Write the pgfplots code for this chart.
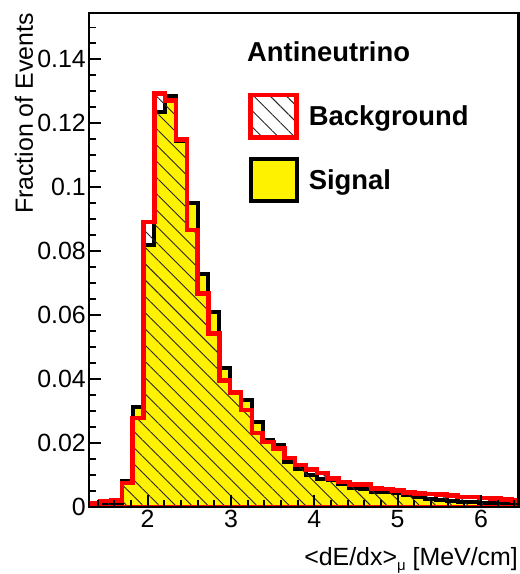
\documentclass[border=0pt]{standalone}
\usepackage{fontspec}
\setmainfont{Liberation Sans}
\usepackage{pgfplots}
\usepackage{pgfplotstable}
\pgfplotsset{compat=1.18}
\usetikzlibrary{patterns.meta,calc}

% bin left edges (bin width 0.13), signal and background fractions
\pgfplotstableread{
x     sig     bkg
1.30  0.0003  0.0011
1.43  0.0005  0.0018
1.56  0.0009  0.0020
1.69  0.0082  0.0075
1.82  0.0314  0.0278
1.95  0.0818  0.0892
2.08  0.1236  0.1293
2.21  0.1286  0.1271
2.34  0.1145  0.1150
2.47  0.0950  0.0866
2.60  0.0728  0.0668
2.73  0.0610  0.0543
2.86  0.0434  0.0395
2.99  0.0360  0.0358
3.12  0.0334  0.0303
3.25  0.0266  0.0232
3.38  0.0211  0.0203
3.51  0.0193  0.0183
3.64  0.0140  0.0153
3.77  0.0120  0.0131
3.90  0.0099  0.0117
4.03  0.0089  0.0106
4.16  0.0083  0.0089
4.29  0.0073  0.0078
4.42  0.0058  0.0071
4.55  0.0057  0.0071
4.68  0.0047  0.0058
4.81  0.0046  0.0056
4.94  0.0043  0.0052
5.07  0.0037  0.0045
5.20  0.0030  0.0042
5.33  0.0025  0.0040
5.46  0.0022  0.0039
5.59  0.0018  0.0036
5.72  0.0016  0.0031
5.85  0.0015  0.0031
5.98  0.0013  0.0028
6.11  0.0012  0.0026
6.24  0.0010  0.0024
6.37  0.0010  0.0020
6.50  0.0010  0.0020
}\histdata

\begin{document}
\begin{tikzpicture}
\begin{axis}[
  scale only axis, width=429.2bp, height=494.3bp,
  xmin=1.3, xmax=6.45, ymin=0, ymax=0.1546,
  axis on top,
  tick align=inside, xtick pos=bottom, ytick pos=left,
  xtick={2,3,4,5,6},
  minor xtick={1.4,1.6,1.8,2.2,2.4,2.6,2.8,3.2,3.4,3.6,3.8,4.2,4.4,4.6,4.8,5.2,5.4,5.6,5.8,6.2,6.4},
  ytick={0,0.02,0.04,0.06,0.08,0.1,0.12,0.14},
  minor ytick={0.005,0.01,0.015,0.025,0.03,0.035,0.045,0.05,0.055,0.065,0.07,0.075,0.085,0.09,0.095,0.105,0.11,0.115,0.125,0.13,0.135,0.145,0.15},
  major tick length=12bp, minor tick length=7bp,
  every tick/.style={black, line width=1.8bp},
  axis line style={line width=2.2bp},
  scaled y ticks=false,
  yticklabel style={/pgf/number format/fixed, /pgf/number format/precision=2},
  /pgf/number format/assume math mode=true,
  tick label style={font=\fontsize{25}{30}\selectfont},
  legend style={draw=none, fill=none, inner sep=0pt, outer sep=0pt,
    at={(rel axis cs:0.3705,0.838)}, anchor=north west,
    font=\fontsize{27.5}{33}\selectfont\bfseries,
    row sep=17bp, column sep=0bp, nodes={inner sep=0pt}},
  legend cell align=left,
  legend image code/.code={\draw[#1] (0bp,-21.25bp) rectangle (46bp,21.25bp);},
  reverse legend,
]
\addplot[const plot, fill=yellow, draw=black, line width=4bp]
  table[x=x,y=sig]{\histdata} \closedcycle;
\addlegendentry{\hspace{10bp}Signal}
\addplot[const plot, draw=red, line width=4.5bp,
  pattern={Lines[angle=-45,distance=11.5bp,line width=0.9bp]}, pattern color=black!85]
  table[x=x,y=bkg]{\histdata} \closedcycle;
\addlegendentry{\hspace{10bp}Background}
\end{axis}
\node[anchor=base west, inner sep=0pt, font=\fontsize{27.5}{33}\selectfont\bfseries]
  at ($(current axis.north west)+(157.7bp,-49.3bp)$) {Antineutrino};
\node[anchor=base east, inner sep=0pt, font=\fontsize{25}{30}\selectfont]
  at ($(current axis.south east)+(-0.5bp,-58bp)$)
  {<dE/dx>\raisebox{-0.45ex}{\fontsize{15}{18}\selectfont μ} [MeV/cm]};
\node[rotate=90, anchor=base east, inner sep=0pt, font=\fontsize{25}{30}\selectfont]
  at ($(current axis.north west)+(-56.3bp,-0.3bp)$) {Fraction of Events};
\pgfresetboundingbox
\path[use as bounding box] ($(current axis.south west)+(-89.3bp,-67bp)$) rectangle ($(current axis.north east)+(1.5bp,12.7bp)$);
\end{tikzpicture}
\end{document}
